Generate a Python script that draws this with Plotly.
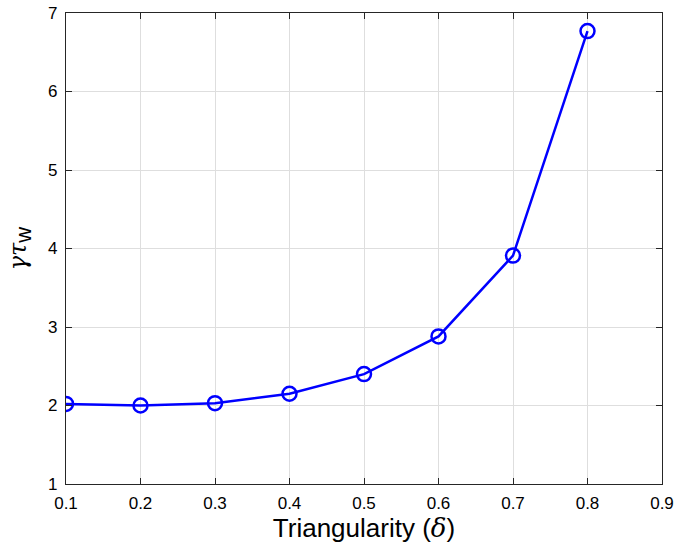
import plotly.graph_objects as go

# Triangularity scan and normalized growth rate
delta = [0.1, 0.2, 0.3, 0.4, 0.5, 0.6, 0.7, 0.8]
gamma_tau_w = [2.02, 2.00, 2.03, 2.15, 2.40, 2.88, 3.91, 6.77]

x_ticks = [0.1, 0.2, 0.3, 0.4, 0.5, 0.6, 0.7, 0.8, 0.9]
y_ticks = [1, 2, 3, 4, 5, 6, 7]

font_family = "Liberation Sans, Arial, sans-serif"

fig = go.Figure(
    go.Scatter(
        x=delta,
        y=gamma_tau_w,
        mode="lines+markers",
        line=dict(color="#0000ff", width=2.5),
        marker=dict(symbol="circle-open", size=14, color="#0000ff",
                    line=dict(width=2.5, color="#0000ff")),
        showlegend=False,
    )
)

axis_common = dict(
    showline=True,
    linecolor="#262626",
    linewidth=1.3,
    mirror="ticks",
    ticks="inside",
    ticklen=6,
    tickcolor="#262626",
    tickwidth=1.3,
    showgrid=True,
    gridcolor="#dedede",
    gridwidth=1,
    zeroline=False,
    automargin=False,
    tickfont=dict(family=font_family, size=17, color="#000000"),
)

fig.update_xaxes(
    range=[0.1, 0.9],
    tickvals=x_ticks,
    ticktext=[f"{v:.1f}" for v in x_ticks],
    ticklabelstandoff=3,
    title=dict(text="Triangularity (<span style='font-family:DejaVu Serif'><i>δ</i></span>)",
               font=dict(family=font_family, size=26, color="#000000"),
               standoff=6),
    **axis_common,
)
fig.update_yaxes(
    range=[1, 7],
    tickvals=y_ticks,
    ticktext=[str(v) for v in y_ticks],
    ticklabelstandoff=4,
    title=dict(text="<span style='font-family:DejaVu Serif'><i>γτ</i></span>"
                    "<sub><span style='font-size:22px'>w</span></sub>",
               font=dict(family=font_family, size=24, color="#000000"),
               standoff=14),
    **axis_common,
)

fig.update_layout(
    width=675,
    height=548,
    margin=dict(l=66, r=13, t=13, b=64),
    paper_bgcolor="#ffffff",
    plot_bgcolor="#ffffff",
)

fig.write_html("out.html")
